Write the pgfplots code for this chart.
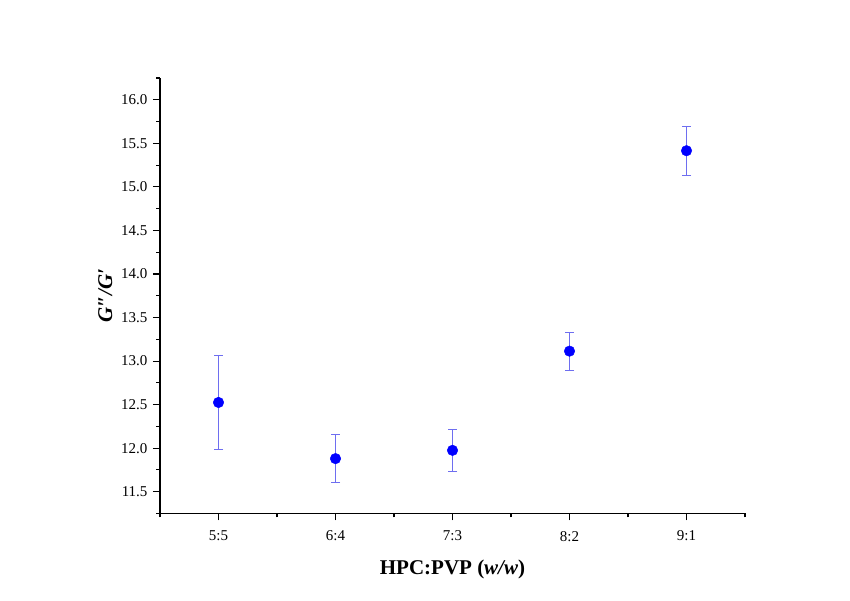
\documentclass[border=0pt]{standalone}
\usepackage{fontspec}
\setmainfont{Liberation Serif}
\usepackage{pgfplots}
\pgfplotsset{compat=1.18}
\definecolor{ptblue}{RGB}{0,0,255}
\definecolor{errblue}{RGB}{110,110,240}
\begin{document}
\begin{tikzpicture}[x=1pt,y=1pt]
\useasboundingbox[fill=white] (0,0) rectangle (850,601);
\begin{axis}[
  at={(160pt,87.5pt)}, anchor=south west,
  scale only axis, width=585pt, height=435.5pt,
  axis lines=left, axis line style={-, line width=1.3pt},
  xmin=-0.5, xmax=4.5, ymin=11.25, ymax=16.25,
  xtick={0,1,2,3,4}, xticklabels={5:5,6:4,7:3,8:2,9:1},
  minor xtick={-0.5,0.5,1.5,2.5,3.5,4.5},
  ytick={11.5,12,...,16.0},
  minor ytick={11.25,11.75,...,16.25},
  tick align=outside, tick pos=left,
  major tick length=7pt, minor tick length=4pt,
  every tick/.style={black, line width=1.1pt},
  /pgf/number format/assume math mode=true,
  /pgf/number format/.cd, fixed, fixed zerofill, precision=1, /pgfplots/.cd,
  tick label style={font=\fontsize{15}{17}\selectfont},
  xticklabel style={yshift=-7pt},
  yticklabel style={xshift=-2pt},
  xlabel={\textbf{HPC:PVP (\textit{w/w})}},
  ylabel={\textbf{\textit{G″/G′}}},
  label style={font=\fontsize{21}{24}\selectfont},
  xlabel style={yshift=-12pt},
  ylabel style={yshift=2pt},
  clip=false,
]
\addplot[only marks, mark=*, mark size=5.3pt,
  mark options={fill=ptblue, draw=ptblue},
  error bars/.cd, y dir=both, y explicit,
  error bar style={errblue, line width=0.8pt},
  error mark options={errblue, line width=0.8pt, rotate=90, mark size=4.5pt}]
coordinates {
 (0,12.525) +- (0,0.54)
 (1,11.88) +- (0,0.277)
 (2,11.975) +- (0,0.24)
 (3,13.114) +- (0,0.22)
 (4,15.415) +- (0,0.285)
};
\end{axis}
\end{tikzpicture}
\end{document}
